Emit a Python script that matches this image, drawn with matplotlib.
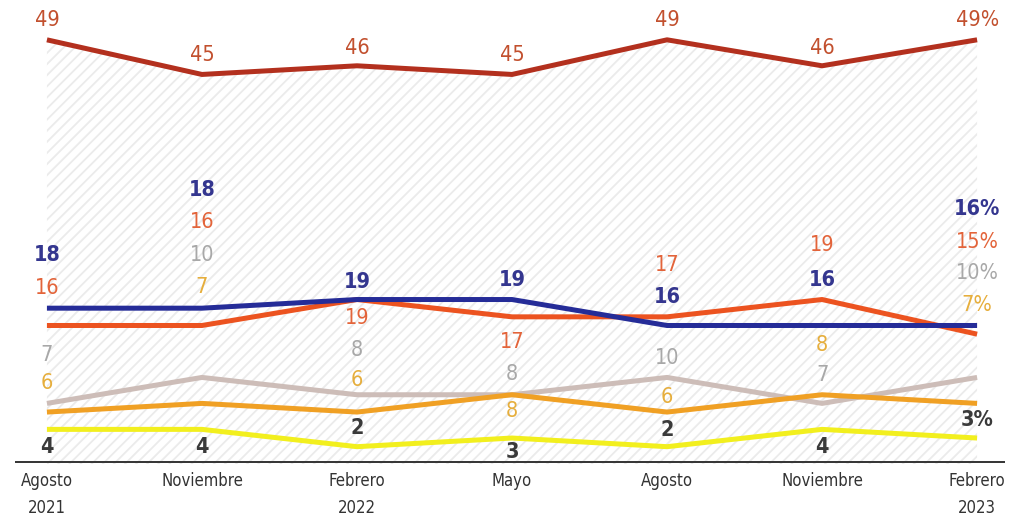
import matplotlib
matplotlib.use("Agg")
import matplotlib.pyplot as plt

# survey dates
periods = ["Agosto\n2021", "Noviembre", "Febrero\n2022", "Mayo", "Agosto", "Noviembre", "Febrero\n2023"]

# series values (%)
s_red = [49, 45, 46, 45, 49, 46, 49]
s_blue = [18, 18, 19, 19, 16, 16, 16]
s_orange = [16, 16, 19, 17, 17, 19, 15]
s_gray = [7, 10, 8, 8, 10, 7, 10]
s_amber = [6, 7, 6, 8, 6, 8, 7]
s_yellow = [4, 4, 2, 3, 2, 4, 3]

# label heights (data units) where each number is written
lab_red = [51.3, 47.3, 48.1, 47.3, 51.3, 48.1, 51.3]
lab_blue = [24.2, 31.7, 21.0, 21.3, 19.3, 21.3, 29.4]
lab_orange = [20.3, 27.9, 16.9, 14.1, 23.0, 25.3, 25.7]
lab_gray = [12.6, 24.2, 13.2, 10.4, 12.3, 10.3, 22.1]
lab_amber = [9.4, 20.5, 9.7, 6.1, 7.7, 13.8, 18.4]
lab_yellow = [2.0, 2.0, 4.2, 1.4, 3.9, 2.0, 5.1]

series = [
    # values, label y, line colour, label colour, label weight, zorder
    (s_yellow, lab_yellow, "#f2ef1e", "#3a3a3a", "semibold", 2),
    (s_gray, lab_gray, "#cdbdb8", "#a8a8a8", "light", 3),
    (s_amber, lab_amber, "#f0a024", "#e6ae3c", "normal", 4),
    (s_orange, lab_orange, "#ec5320", "#e3643a", "normal", 5),
    (s_blue, lab_blue, "#252c98", "#34368f", "semibold", 6),
    (s_red, lab_red, "#b3301e", "#c2502e", "normal", 7),
]

FONT = dict(family="DejaVu Sans", fontstretch="condensed")

fig = plt.figure(figsize=(10.1, 5.18), dpi=100)
ax = fig.add_axes([15 / 1010, 54 / 518, 990 / 1010, 464 / 518])
x = list(range(len(periods)))

plt.rcParams["hatch.linewidth"] = 1.3
ax.fill_between(x, s_red, 0, facecolor="none", edgecolor="#ebebeb",
                hatch="///", linewidth=0, zorder=1)

for vals, laby, lc, tc, fw, z in series:
    ax.plot(x, vals, color=lc, lw=3.6, solid_capstyle="butt",
            solid_joinstyle="round", zorder=z)
    for i, (v, ly) in enumerate(zip(vals, laby)):
        txt = str(v) + ("%" if i == len(vals) - 1 else "")
        ax.text(i, ly, txt, color=tc, fontsize=15.5, fontweight=fw,
                ha="center", va="center", zorder=10, **FONT)

ax.set_xlim(-0.206, 6.18)
ax.set_ylim(0, 53.6)
ax.axhline(0.2, color="#333333", lw=1.4, zorder=8)
for s in ax.spines.values():
    s.set_visible(False)
ax.set_yticks([])
ax.set_xticks(x)
ax.set_xticklabels(periods, fontsize=12, color="#333333",
                   linespacing=1.6, **FONT)
ax.tick_params(axis="x", length=0, pad=6)

fig.savefig("out.png", dpi=100, facecolor="white")
